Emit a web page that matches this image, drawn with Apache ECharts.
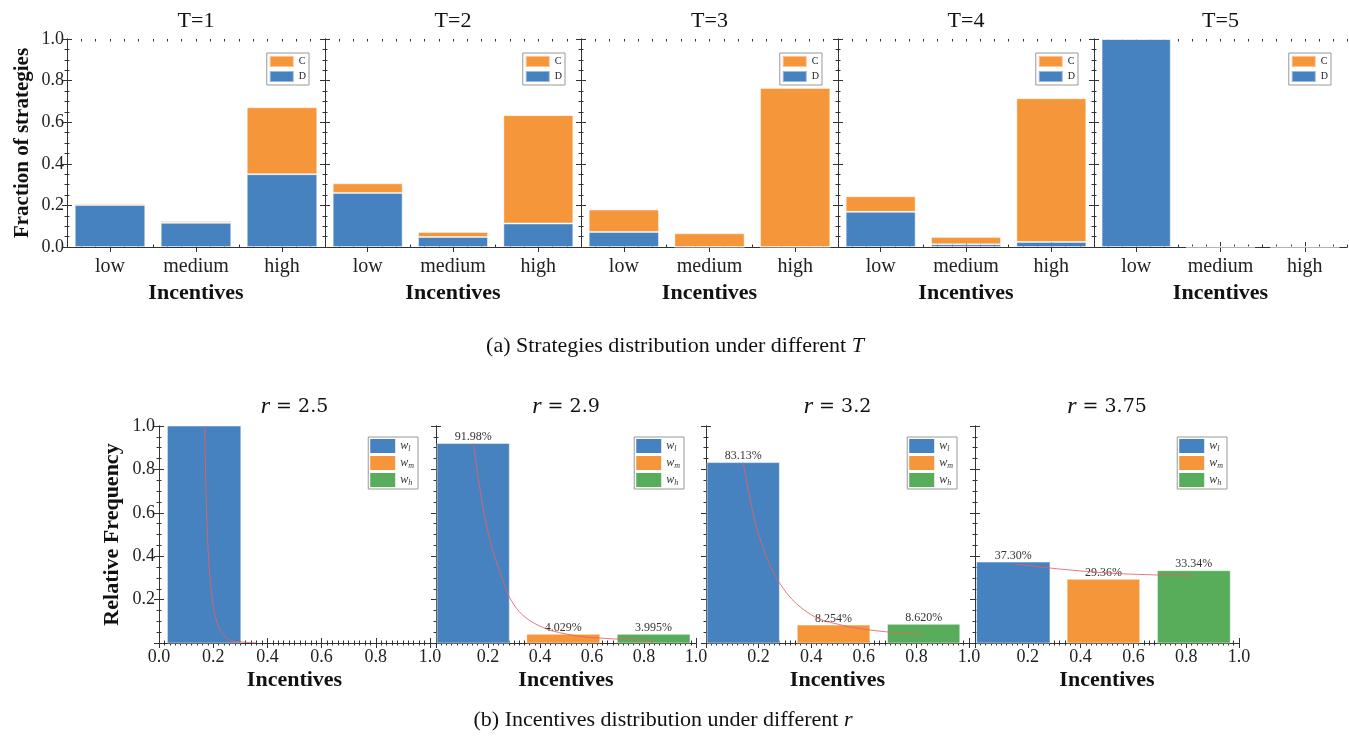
<!DOCTYPE html>
<html>
<head>
<meta charset="utf-8">
<script src="https://cdn.jsdelivr.net/npm/echarts@6/dist/echarts.min.js"></script>
<style>
  html, body { margin: 0; padding: 0; background: #fff; }
  #chart { width: 1349px; height: 741px; }
</style>
</head>
<body>
<div id="chart"></div>
<script>
// ---- (a) strategy fractions per incentive level, one panel per T ----
const incentiveLevels = ['low', 'medium', 'high'];
const tValues = [1, 2, 3, 4, 5];
const defectorShare = [
  [0.202, 0.116, 0.350],
  [0.260, 0.048, 0.113],
  [0.072, 0.000, 0.000],
  [0.169, 0.013, 0.024],
  [1.000, 0.000, 0.000]
];
const cooperatorShare = [
  [0.007, 0.009, 0.322],
  [0.046, 0.024, 0.521],
  [0.108, 0.066, 0.765],
  [0.075, 0.035, 0.691],
  [0.000, 0.000, 0.000]
];
const yTicksTop = [0, 0.2, 0.4, 0.6, 0.8, 1.0];

// ---- (b) relative frequency of incentive classes, one panel per r ----
const rValues = ['2.5', '2.9', '3.2', '3.75'];
const freqLow  = [1.0000, 0.9198, 0.8313, 0.3730];
const freqMid  = [0.0000, 0.04029, 0.08254, 0.2936];
const freqHigh = [0.0000, 0.03995, 0.08620, 0.3334];
// bin extents [from, to] on the incentive axis
const binLow  = [[0.031, 0.302], [0.004, 0.282], [0.004, 0.279], [0.006, 0.284]];
const binMid  = [[0.348, 0.628], [0.349, 0.630], [0.347, 0.623], [0.349, 0.624]];
const binHigh = [[0.694, 0.972], [0.697, 0.977], [0.690, 0.965], [0.691, 0.967]];
const showPercent = [false, true, true, true];
// fitted decay curve over each histogram
const fitCurves = [
  [[0.169, 1.0], [0.172, 0.78], [0.177, 0.55], [0.187, 0.32], [0.202, 0.16], [0.224, 0.065],
   [0.261, 0.014], [0.323, 0.003], [0.36, 0.0]],
  [[0.144, 0.92], [0.16, 0.78], [0.18, 0.63], [0.20, 0.51], [0.23, 0.38], [0.26, 0.28],
   [0.283, 0.21], [0.32, 0.145], [0.36, 0.104], [0.41, 0.072], [0.45, 0.055], [0.55, 0.031],
   [0.64, 0.022], [0.74, 0.016], [0.836, 0.012]],
  [[0.142, 0.831], [0.165, 0.68], [0.19, 0.54], [0.22, 0.43], [0.25, 0.34], [0.278, 0.28],
   [0.31, 0.225], [0.344, 0.181], [0.40, 0.13], [0.446, 0.104], [0.50, 0.087], [0.547, 0.074],
   [0.635, 0.058], [0.73, 0.047], [0.825, 0.040]],
  [[0.151, 0.364], [0.32, 0.341], [0.51, 0.322], [0.65, 0.315], [0.826, 0.309]]
];

const SERIF = '"Liberation Serif", "Times New Roman", serif';
const MATH = '"DejaVu Serif", serif';
const BLUE = '#4682bf';
const ORANGE = '#f5963a';
const GREEN = '#57ad5a';
const FRAME = '#333';
const W = 1349;

const chart = echarts.init(document.getElementById('chart'), null, { renderer: 'canvas' });

const grid = [], xAxis = [], yAxis = [], series = [], legend = [], graphic = [];

const lineOn = { show: true, lineStyle: { color: FRAME, width: 1 } };
const noSplit = { show: false };

function tickAxis(gridIndex, position, extra) {
  return Object.assign({
    gridIndex, position, type: 'value',
    axisLine: { show: false }, axisLabel: { show: false }, splitLine: noSplit,
    axisTick: { show: true, inside: true, length: 2.5, lineStyle: { color: FRAME } }
  }, extra);
}

// ---------- top row ----------
const topLeft = [67, 325, 581, 838, 1094];
const topWidth = [258, 256, 257, 256, 253];
const topY = 39, topH = 208;

tValues.forEach((t, g) => {
  const gi = grid.length;
  grid.push({ left: topLeft[g], top: topY, width: topWidth[g], height: topH, containLabel: false });

  const xi = xAxis.length;
  xAxis.push({
    gridIndex: gi, type: 'category', data: incentiveLevels, position: 'bottom',
    axisLine: lineOn,
    axisTick: { show: true, inside: true, alignWithLabel: true, length: 5, lineStyle: { color: FRAME } },
    axisLabel: { fontFamily: SERIF, fontSize: 20, color: '#222', margin: 10, interval: 0 },
    name: 'Incentives', nameLocation: 'middle', nameGap: 35,
    nameTextStyle: { fontFamily: SERIF, fontSize: 22, fontWeight: 'bold', color: '#111' }
  });
  xAxis.push({
    gridIndex: gi, type: 'category', data: incentiveLevels, position: 'top',
    axisLine: lineOn, axisLabel: { show: false },
    axisTick: { show: true, inside: true, alignWithLabel: true, length: 5, lineStyle: { color: FRAME } }
  });
  xAxis.push(tickAxis(gi, 'bottom', { min: 0, max: 18, interval: 1 }));
  xAxis.push(tickAxis(gi, 'top', { min: 0, max: 18, interval: 1 }));

  const yi = yAxis.length;
  const yBase = {
    gridIndex: gi, type: 'value', min: yTicksTop[0], max: yTicksTop[yTicksTop.length - 1], interval: 0.2,
    axisLine: lineOn, splitLine: noSplit,
    axisTick: { show: true, inside: true, length: 5, lineStyle: { color: FRAME } },
    minorTick: { show: true, splitNumber: 4, length: 2.5, lineStyle: { color: FRAME } },
    minorSplitLine: { show: false }
  };
  yAxis.push(Object.assign({}, yBase, {
    position: 'left',
    axisLabel: g === 0
      ? { show: true, fontFamily: SERIF, fontSize: 18, color: '#222', margin: 3, formatter: v => v.toFixed(1) }
      : { show: false },
    name: g === 0 ? 'Fraction of strategies' : '',
    nameLocation: 'middle', nameGap: 34,
    nameTextStyle: { fontFamily: SERIF, fontSize: 21, fontWeight: 'bold', color: '#111' }
  }));
  yAxis.push(Object.assign({}, yBase, { position: 'right', axisLabel: { show: false } }));

  series.push({
    type: 'bar', name: 'D', xAxisIndex: xi, yAxisIndex: yi, stack: 'T' + t,
    data: defectorShare[g], barCategoryGap: '18%',
    itemStyle: { color: BLUE, borderColor: 'rgba(255,255,255,0.45)', borderWidth: 1 },
    silent: true
  });
  series.push({
    type: 'bar', name: 'C', xAxisIndex: xi, yAxisIndex: yi, stack: 'T' + t,
    data: cooperatorShare[g], barCategoryGap: '18%',
    itemStyle: { color: ORANGE, borderColor: 'rgba(255,255,255,0.45)', borderWidth: 1 },
    silent: true
  });

  const frameRight = topLeft[g] + topWidth[g];
  legend.push({
    data: ['C', 'D'], orient: 'vertical', selectedMode: false,
    right: W - (frameRight - 16), top: 53,
    icon: 'rect', itemWidth: 24, itemHeight: 11, itemGap: 2,
    padding: [2, 3, 2, 2], borderColor: '#999', borderWidth: 1, backgroundColor: '#fff',
    textStyle: { fontFamily: SERIF, fontSize: 10, color: '#222' }
  });

  graphic.push({
    type: 'text', x: topLeft[g] + topWidth[g] / 2, y: 21,
    style: { text: 'T=' + t, font: '22px ' + SERIF, fill: '#111', align: 'center', verticalAlign: 'middle' }
  });
});

// ---------- bottom row ----------
const botLeft = [159, 436, 706, 975];
const botWidth = [271, 260, 263, 264];
const botY = 426, botH = 217;

function pct(v) { return (v * 100).toPrecision(4) + '%'; }

function binRenderer(withLabel) {
  return function (params, api) {
    const x0 = api.value(0), x1 = api.value(1), v = api.value(2);
    if (!(v > 0)) return null;
    const a = api.coord([x0, v]);
    const b = api.coord([x1, 0]);
    const children = [{
      type: 'rect',
      shape: { x: a[0], y: a[1], width: b[0] - a[0], height: b[1] - a[1] },
      style: { fill: api.visual('color'), stroke: 'rgba(255,255,255,0.5)', lineWidth: 1 }
    }];
    if (withLabel) {
      children.push({
        type: 'text', x: (a[0] + b[0]) / 2, y: a[1] - 0.5, z2: 20,
        style: { text: pct(v), font: '12px ' + SERIF, fill: '#333', align: 'center', verticalAlign: 'bottom' }
      });
    }
    return { type: 'group', children };
  };
}

rValues.forEach((r, h) => {
  const gi = grid.length;
  grid.push({ left: botLeft[h], top: botY, width: botWidth[h], height: botH, containLabel: false });

  const xBase = {
    gridIndex: gi, type: 'value', min: 0, max: 1, interval: 0.2,
    axisLine: lineOn, splitLine: noSplit, minorSplitLine: { show: false },
    axisTick: { show: true, inside: true, length: 5, lineStyle: { color: FRAME } },
    minorTick: { show: true, splitNumber: 10, length: 2.5, lineStyle: { color: FRAME } }
  };
  const xi = xAxis.length;
  xAxis.push(Object.assign({}, xBase, {
    position: 'bottom',
    axisLabel: { fontFamily: SERIF, fontSize: 18, color: '#222', margin: 5, showMinLabel: h === 0,
      formatter: v => v.toFixed(1) },
    name: 'Incentives', nameLocation: 'middle', nameGap: 26,
    nameTextStyle: { fontFamily: SERIF, fontSize: 22, fontWeight: 'bold', color: '#111' }
  }));
  xAxis.push(Object.assign({}, xBase, { position: 'top', axisLabel: { show: false } }));

  const yBase = {
    gridIndex: gi, type: 'value', min: 0, max: 1, interval: 0.2,
    axisLine: lineOn, splitLine: noSplit, minorSplitLine: { show: false },
    axisTick: { show: true, inside: true, length: 5, lineStyle: { color: FRAME } },
    minorTick: { show: true, splitNumber: 4, length: 2.5, lineStyle: { color: FRAME } }
  };
  const yi = yAxis.length;
  yAxis.push(Object.assign({}, yBase, {
    position: 'left',
    axisLabel: h === 0
      ? { show: true, fontFamily: SERIF, fontSize: 18, color: '#222', margin: 4, showMinLabel: false,
          formatter: v => v.toFixed(1) }
      : { show: false },
    name: h === 0 ? 'Relative Frequency' : '',
    nameLocation: 'middle', nameGap: 36,
    nameTextStyle: { fontFamily: SERIF, fontSize: 22, fontWeight: 'bold', color: '#111' }
  }));
  yAxis.push(Object.assign({}, yBase, { position: 'right', axisLabel: { show: false } }));

  const classes = [
    ['wl', BLUE, binLow[h], freqLow[h]],
    ['wm', ORANGE, binMid[h], freqMid[h]],
    ['wh', GREEN, binHigh[h], freqHigh[h]]
  ];
  classes.forEach(([name, color, bin, val]) => {
    series.push({
      type: 'custom', name, xAxisIndex: xi, yAxisIndex: yi,
      itemStyle: { color },
      renderItem: binRenderer(showPercent[h]),
      encode: { x: [0, 1], y: 2 },
      data: [[bin[0], bin[1], val]],
      silent: true, z: 2
    });
  });

  series.push({
    type: 'line', name: 'fit', xAxisIndex: xi, yAxisIndex: yi,
    data: fitCurves[h], smooth: 0.35, showSymbol: false, symbol: 'none',
    lineStyle: { color: 'rgba(232,96,96,0.85)', width: 1 },
    silent: true, z: 5
  });

  const frameRight = botLeft[h] + botWidth[h];
  legend.push({
    data: ['wl', 'wm', 'wh'], orient: 'vertical', selectedMode: false,
    right: W - (frameRight - 12), top: botY + 11,
    icon: 'rect', itemWidth: 25, itemHeight: 14, itemGap: 3,
    padding: [2, 4, 2, 2], borderColor: '#999', borderWidth: 1, backgroundColor: '#fff',
    formatter: n => '{w|w}{s|' + n.charAt(1) + '}',
    textStyle: {
      rich: {
        w: { fontFamily: SERIF, fontStyle: 'italic', fontSize: 12, color: '#333' },
        s: { fontFamily: SERIF, fontStyle: 'italic', fontSize: 8, color: '#333', padding: [6, 0, 0, 0] }
      }
    }
  });

  graphic.push({
    type: 'text', x: botLeft[h] + botWidth[h] / 2, y: 407,
    style: {
      text: '{i|r}{n| = ' + r + '}', align: 'center', verticalAlign: 'middle',
      rich: {
        i: { fontFamily: SERIF, fontStyle: 'italic', fontSize: 24, fill: '#111' },
        n: { fontFamily: MATH, fontSize: 19, fill: '#111' }
      }
    }
  });
});

// ---------- captions ----------
graphic.push({
  type: 'text', x: 675, y: 346,
  style: {
    text: '{n|(a) Strategies distribution under different }{i|T}', align: 'center', verticalAlign: 'middle',
    rich: {
      n: { fontFamily: SERIF, fontSize: 22, fill: '#111' },
      i: { fontFamily: SERIF, fontSize: 22, fontStyle: 'italic', fill: '#111' }
    }
  }
});
graphic.push({
  type: 'text', x: 663, y: 720,
  style: {
    text: '{n|(b) Incentives distribution under different }{i|r}', align: 'center', verticalAlign: 'middle',
    rich: {
      n: { fontFamily: SERIF, fontSize: 22, fill: '#111' },
      i: { fontFamily: SERIF, fontSize: 22, fontStyle: 'italic', fill: '#111' }
    }
  }
});

chart.setOption({
  animation: false,
  backgroundColor: '#fff',
  grid, xAxis, yAxis, series, legend, graphic
});
</script>
</body>
</html>
